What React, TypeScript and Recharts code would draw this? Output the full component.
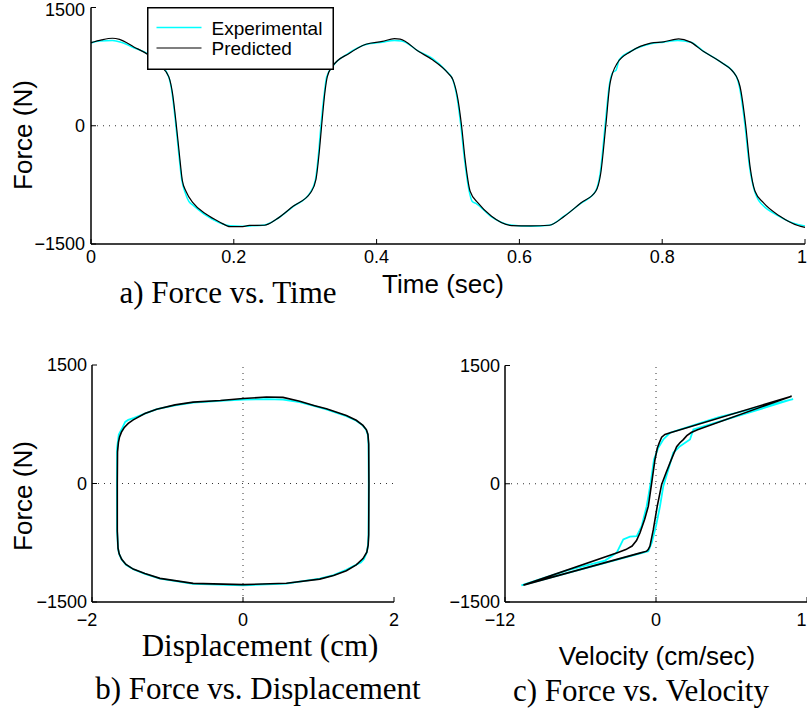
import React from "react";
import { LineChart, Line, XAxis, YAxis, ReferenceLine, Legend } from "recharts";

const SANS = '"Liberation Sans", Arial, Helvetica, sans-serif';
const SERIF = '"Liberation Serif", "Times New Roman", Times, serif';

// ---------- a) Force vs. Time ----------
const timeTicks = [0, 0.2, 0.4, 0.6, 0.8, 1];
const timeTickLabels = ["0", "0.2", "0.4", "0.6", "0.8", "1"];
const forceTicks = [-1500, 0, 1500];
const forceTickLabels = ["\u22121500", "0", "1500"];

const timeExp = [0, 0.012, 0.03, 0.042, 0.06, 0.08, 0.095, 0.108, 0.113, 0.118, 0.123, 0.127, 0.132, 0.137, 0.142, 0.16, 0.18, 0.195, 0.21, 0.225, 0.243, 0.26, 0.283, 0.306, 0.314, 0.319, 0.322, 0.327, 0.33, 0.34, 0.36, 0.385, 0.408, 0.425, 0.435, 0.458, 0.478, 0.498, 0.506, 0.513, 0.518, 0.523, 0.529, 0.534, 0.54, 0.56, 0.588, 0.616, 0.642, 0.662, 0.686, 0.706, 0.713, 0.72, 0.726, 0.731, 0.735, 0.74, 0.756, 0.784, 0.802, 0.822, 0.84, 0.858, 0.88, 0.903, 0.908, 0.916, 0.922, 0.929, 0.934, 0.94, 0.962, 0.985, 1.0];
const forceExp = [1050, 1075, 1080, 1060, 990, 910, 790, 640, 450, 80, -360, -680, -850, -960, -1000, -1130, -1230, -1270, -1275, -1270, -1258, -1185, -1025, -860, -700, -320, 0, 430, 620, 770, 915, 1030, 1060, 1080, 1075, 950, 855, 690, 600, 340, 0, -420, -800, -960, -990, -1150, -1260, -1275, -1262, -1150, -985, -840, -610, 0, 520, 680, 700, 840, 945, 1040, 1060, 1080, 1060, 945, 820, 640, 500, 0, -500, -820, -930, -1000, -1140, -1240, -1270];

const timePred = [0, 0.015, 0.03, 0.04, 0.06, 0.08, 0.097, 0.109, 0.114, 0.119, 0.124, 0.128, 0.133, 0.143, 0.162, 0.18, 0.195, 0.21, 0.222, 0.243, 0.259, 0.283, 0.308, 0.315, 0.32, 0.323, 0.328, 0.331, 0.338, 0.362, 0.385, 0.408, 0.425, 0.433, 0.459, 0.477, 0.5, 0.507, 0.514, 0.519, 0.524, 0.531, 0.542, 0.561, 0.589, 0.616, 0.642, 0.663, 0.686, 0.707, 0.714, 0.721, 0.727, 0.737, 0.756, 0.784, 0.802, 0.823, 0.839, 0.858, 0.881, 0.904, 0.909, 0.917, 0.923, 0.93, 0.942, 0.965, 0.99, 1.0];
const forcePred = [1054, 1090, 1110, 1095, 1000, 900, 760, 620, 420, 50, -380, -700, -830, -979, -1127, -1220, -1280, -1280, -1265, -1262, -1190, -1022, -844, -684, -304, 0, 456, 624, 751, 920, 1034, 1070, 1105, 1100, 941, 844, 667, 582, 329, 0, -430, -831, -979, -1148, -1266, -1270, -1262, -1148, -979, -831, -599, 0, 540, 793, 941, 1047, 1064, 1101, 1064, 941, 814, 624, 498, 0, -515, -831, -979, -1148, -1266, -1290];

// ---------- b) Force vs. Displacement ----------
const dispTicks = [-2, 0, 2];
const dispTickLabels = ["\u22122", "0", "2"];
const dispExp = [-1.67, -1.668, -1.645, -1.6, -1.56, -1.52, -1.44, -1.3, -1.14, -0.9, -0.66, -0.3, 0.0, 0.31, 0.53, 0.751, 0.95, 1.104, 1.369, 1.5, 1.58, 1.63, 1.652, 1.662, 1.665, 1.662, 1.655, 1.64, 1.6, 1.56, 1.45, 1.369, 1.2, 1.016, 0.575, 0.0, -0.66, -1.1, -1.3, -1.454, -1.55, -1.607, -1.64, -1.655, -1.668, -1.67];
const forceDispExp = [0, 450, 620, 700, 780, 805, 830, 885, 940, 990, 1025, 1045, 1062, 1068, 1062, 1030, 980, 938, 852, 795, 740, 680, 620, 500, 0, -650, -780, -870, -960, -1000, -1050, -1092, -1160, -1205, -1268, -1290, -1270, -1205, -1145, -1085, -1028, -962, -895, -825, -600, 0];
const dispPred = [-1.665, -1.662, -1.65, -1.635, -1.61, -1.575, -1.52, -1.454, -1.3, -1.144, -0.9, -0.66, -0.3, 0.0, 0.31, 0.53, 0.751, 0.95, 1.104, 1.369, 1.5, 1.589, 1.635, 1.655, 1.665, 1.668, 1.665, 1.658, 1.64, 1.589, 1.5, 1.369, 1.2, 1.016, 0.575, 0.0, -0.66, -1.1, -1.3, -1.454, -1.55, -1.607, -1.64, -1.655, -1.665, -1.665];
const forceDispPred = [0, 400, 520, 590, 650, 705, 760, 805, 885, 940, 995, 1030, 1050, 1075, 1095, 1090, 1040, 985, 945, 860, 800, 735, 680, 620, 500, 0, -650, -780, -870, -950, -1030, -1105, -1165, -1210, -1262, -1280, -1264, -1201, -1140, -1083, -1025, -960, -890, -820, -600, 0];

// ---------- c) Force vs. Velocity ----------
const velTicks = [-12, 0, 12];
const velTickLabels = ["\u221212", "0", "1"];
const velExp = [-10.7, -7.0, -4.05, -3.12, -2.6, -2.07, -1.53, -1.14, -0.74, -0.42, -0.16, 0.18, 0.58, 1.11, 5.0, 10.9, 6.0, 2.97, 2.7, 1.91, 1.37, 0.98, 0.58, 0.32, 0.0, -0.34, -0.61, -5.0, -10.7];
const forceVelExp = [-1290, -1095, -975, -875, -706, -672, -664, -538, -284, 13, 308, 456, 562, 647, 845, 1075, 835, 688, 562, 477, 393, 181, -30, -284, -538, -748, -855, -1045, -1290];
const velPred = [-10.54, -3.02, -2.4, -1.9, -1.55, -1.27, -0.9, -0.61, -0.34, -0.08, 0.1, 0.26, 0.45, 0.71, 1.2, 10.78, 3.3, 2.8, 2.45, 2.17, 1.9, 1.64, 1.2, 0.8, 0.45, 0.1, -0.21, -0.48, -0.62, -0.74, -1.3, -10.54];
const forceVelPred = [-1286, -871, -835, -790, -720, -621, -450, -284, 13, 308, 450, 520, 590, 625, 650, 1111, 686, 650, 610, 560, 520, 470, 300, 140, -9, -284, -579, -791, -835, -855, -880, -1286];

const seriesNames = ["Experimental", "Predicted"];
const expColor = "#00FFFF";
const predColor = "#000000";

const zip = (xs: number[], ys: number[]) => xs.map((x, i) => ({ x, y: ys[i] }));

const axisLine = { stroke: "#000", strokeWidth: 1.5 };
const tickLine = { stroke: "#000", strokeWidth: 1 };

function makeXTick(ticks: number[], labels: string[], anchors?: string[], endShift = 0) {
  return (p: any) => {
    const i = ticks.indexOf(p.payload.value);
    const label = i >= 0 ? labels[i] : String(p.payload.value);
    const neg = label.startsWith("\u2212");
    const anchor = anchors && i >= 0 ? anchors[i] : "middle";
    const dx = neg ? -5 : anchor === "end" ? endShift : 0;
    return (
      <text x={p.x + dx} y={p.y} dy="0.71em" textAnchor={anchor} fontFamily={SANS} fontSize={18} fill="#000">
        {label}
      </text>
    );
  };
}

function makeYTick(topShift = 0) {
  return (p: any) => {
    const v = p.payload.value;
    const i = forceTicks.indexOf(v);
    const label = i >= 0 ? forceTickLabels[i] : String(v);
    const dy = v === forceTicks[forceTicks.length - 1] ? topShift : 0;
    return (
      <text x={p.x} y={p.y + dy} dy="0.355em" textAnchor="end" fontFamily={SANS} fontSize={18} fill="#000">
        {label}
      </text>
    );
  };
}

const LegendBox = () => (
  <svg width={187} height={63} style={{ display: "block" }}>
    <rect x={0.75} y={0.75} width={185.5} height={61.5} fill="#fff" stroke="#000" strokeWidth={1.5} />
    <line x1={9.5} x2={54.5} y1={20.5} y2={20.5} stroke={expColor} strokeWidth={1.5} />
    <text x={64.5} y={28} fontFamily={SANS} fontSize={19} fill="#000">{seriesNames[0]}</text>
    <line x1={9.5} x2={54.5} y1={41} y2={41} stroke={predColor} strokeWidth={1.2} />
    <text x={64.5} y={48} fontFamily={SANS} fontSize={19} fill="#000">{seriesNames[1]}</text>
  </svg>
);

export default function App() {
  const expTime = zip(timeExp, forceExp);
  const predTime = zip(timePred, forcePred);
  const expDisp = zip(dispExp, forceDispExp);
  const predDisp = zip(dispPred, forceDispPred);
  const expVel = zip(velExp, forceVelExp);
  const predVel = zip(velPred, forceVelPred);

  return (
    <div style={{ position: "absolute", left: 0, top: 0, width: 807, height: 713, background: "#fff", overflow: "hidden" }}>
      {/* a) Force vs. Time */}
      <div style={{ position: "absolute", left: 0, top: 0 }}>
        <LineChart width={807} height={274} margin={{ top: 7.5, right: 2, bottom: 0, left: 0 }}>
          <XAxis dataKey="x" type="number" domain={[0, 1]} ticks={timeTicks} interval={0} height={30}
            axisLine={axisLine} tickLine={tickLine} tickSize={-5} tickMargin={11}
            tick={makeXTick(timeTicks, timeTickLabels, ["middle", "middle", "middle", "middle", "middle", "end"], 2)} allowDuplicatedCategory={false} />
          <XAxis xAxisId="top" orientation="top" type="number" domain={[0, 1]} ticks={timeTicks} interval={0} height={0}
            axisLine={axisLine} tickLine={tickLine} tickSize={-5} tick={false} />
          <YAxis type="number" domain={[-1500, 1500]} ticks={forceTicks} interval={0} width={91}
            axisLine={axisLine} tickLine={tickLine} tickSize={-5} tickMargin={11} tick={makeYTick(2)} />
          <YAxis yAxisId="right" orientation="right" type="number" domain={[-1500, 1500]} ticks={forceTicks} interval={0} width={0}
            axisLine={axisLine} tickLine={tickLine} tickSize={-5} tick={false} />
          <ReferenceLine y={0} stroke="#333" strokeWidth={1} strokeDasharray="1 5" />
          <Line data={expTime} dataKey="y" type="monotone" stroke={expColor} strokeWidth={1.5} dot={false} isAnimationActive={false} name={seriesNames[0]} />
          <Line data={predTime} dataKey="y" type="monotone" stroke={predColor} strokeWidth={1.2} dot={false} isAnimationActive={false} name={seriesNames[1]} />
          <Legend layout="horizontal" verticalAlign="middle" align="center" content={() => <LegendBox />}
            wrapperStyle={{ left: 147, top: 7, width: 187, height: 63 }} />
        </LineChart>
      </div>

      {/* b) Force vs. Displacement */}
      <div style={{ position: "absolute", left: 0, top: 350 }}>
        <LineChart width={400} height={282} margin={{ top: 15, right: 6, bottom: 0, left: 0 }}>
          <XAxis dataKey="x" type="number" domain={[-2, 2]} ticks={dispTicks} interval={0} height={30}
            axisLine={axisLine} tickLine={tickLine} tickSize={-5} tickMargin={16}
            tick={makeXTick(dispTicks, dispTickLabels)} allowDuplicatedCategory={false} />
          <XAxis xAxisId="top" orientation="top" type="number" domain={[-2, 2]} ticks={dispTicks} interval={0} height={0}
            axisLine={axisLine} tickLine={tickLine} tickSize={-5} tick={false} />
          <YAxis type="number" domain={[-1500, 1500]} ticks={forceTicks} interval={0} width={92}
            axisLine={axisLine} tickLine={tickLine} tickSize={-5} tickMargin={10} tick={makeYTick(0)} />
          <YAxis yAxisId="right" orientation="right" type="number" domain={[-1500, 1500]} ticks={forceTicks} interval={0} width={0}
            axisLine={axisLine} tickLine={tickLine} tickSize={-5} tick={false} />
          <ReferenceLine y={0} stroke="#333" strokeWidth={1} strokeDasharray="1 5" />
          <ReferenceLine x={0} stroke="#333" strokeWidth={1} strokeDasharray="1 5" />
          <Line data={expDisp} dataKey="y" type="linear" stroke={expColor} strokeWidth={1.8} dot={false} isAnimationActive={false} />
          <Line data={predDisp} dataKey="y" type="linear" stroke={predColor} strokeWidth={1.6} dot={false} isAnimationActive={false} />
        </LineChart>
      </div>

      {/* c) Force vs. Velocity */}
      <div style={{ position: "absolute", left: 420, top: 350 }}>
        <LineChart width={387} height={282} margin={{ top: 15.5, right: 0, bottom: 0, left: 0 }}>
          <XAxis dataKey="x" type="number" domain={[-12, 12]} ticks={velTicks} interval={0} height={30}
            axisLine={axisLine} tickLine={tickLine} tickSize={-5} tickMargin={16}
            tick={makeXTick(velTicks, velTickLabels, ["middle", "middle", "end"], -0.5)} allowDuplicatedCategory={false} />
          <XAxis xAxisId="top" orientation="top" type="number" domain={[-12, 12]} ticks={velTicks} interval={0} height={0}
            axisLine={axisLine} tickLine={tickLine} tickSize={-5} tick={false} />
          <YAxis type="number" domain={[-1500, 1500]} ticks={forceTicks} interval={0} width={85}
            axisLine={axisLine} tickLine={tickLine} tickSize={-5} tickMargin={10} tick={makeYTick(0)} />
          <YAxis yAxisId="right" orientation="right" type="number" domain={[-1500, 1500]} ticks={forceTicks} interval={0} width={0}
            axisLine={axisLine} tickLine={tickLine} tickSize={-5} tick={false} />
          <ReferenceLine y={0} stroke="#333" strokeWidth={1} strokeDasharray="1 5" />
          <ReferenceLine x={0} stroke="#333" strokeWidth={1} strokeDasharray="1 5" />
          <Line data={expVel} dataKey="y" type="linear" stroke={expColor} strokeWidth={1.8} dot={false} isAnimationActive={false} />
          <Line data={predVel} dataKey="y" type="linear" stroke={predColor} strokeWidth={1.6} dot={false} isAnimationActive={false} />
        </LineChart>
      </div>

      {/* titles and axis labels */}
      <svg width={807} height={713} style={{ position: "absolute", left: 0, top: 0, pointerEvents: "none" }}>
        <text x={32} y={135} transform="rotate(-90 32 135)" textAnchor="middle" fontFamily={SANS} fontSize={26} fill="#000">Force (N)</text>
        <text x={443} y={293} textAnchor="middle" fontFamily={SANS} fontSize={26} fill="#000">Time (sec)</text>
        <text x={228} y={303} textAnchor="middle" fontFamily={SERIF} fontSize={31} fill="#000">a) Force vs. Time</text>

        <text x={32} y={496} transform="rotate(-90 32 496)" textAnchor="middle" fontFamily={SANS} fontSize={26} fill="#000">Force (N)</text>
        <text x={260} y={656} textAnchor="middle" fontFamily={SERIF} fontSize={31} fill="#000">Displacement (cm)</text>
        <text x={258} y={699} textAnchor="middle" fontFamily={SERIF} fontSize={31} fill="#000">b) Force vs. Displacement</text>

        <text x={657} y={665} textAnchor="middle" fontFamily={SANS} fontSize={26} fill="#000">Velocity (cm/sec)</text>
        <text x={641} y={701} textAnchor="middle" fontFamily={SERIF} fontSize={31} fill="#000">c) Force vs. Velocity</text>
      </svg>
    </div>
  );
}
